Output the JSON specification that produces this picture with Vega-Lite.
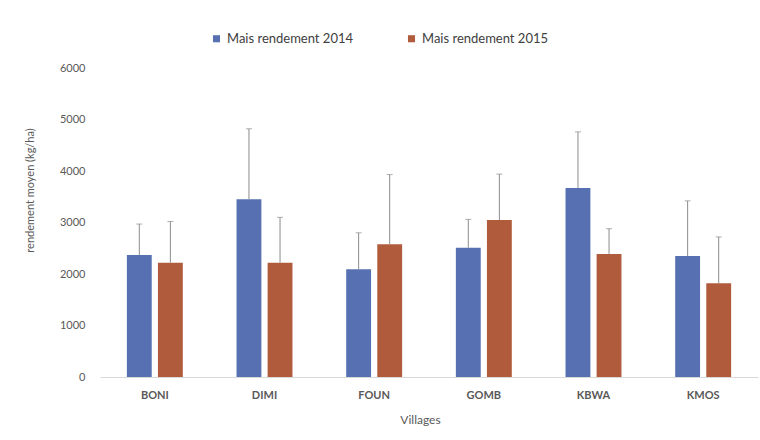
{
  "$schema": "https://vega.github.io/schema/vega-lite/v6.json",
  "width": 658,
  "height": 309,
  "autosize": {"type": "none"},
  "padding": {"left": 100, "top": 68, "right": 2, "bottom": 63},
  "background": "white",
  "config": {
    "font": "Lato",
    "view": {"stroke": null},
    "axis": {"labelColor": "#595959", "titleColor": "#595959", "labelFont": "Lato", "titleFont": "Lato"}
  },
  "data": {
    "values": [
      {"village": "BONI", "serie": "Mais  rendement 2014", "rendement": 2370, "haut": 2970},
      {"village": "BONI", "serie": "Mais  rendement 2015", "rendement": 2220, "haut": 3020},
      {"village": "DIMI", "serie": "Mais  rendement 2014", "rendement": 3450, "haut": 4820},
      {"village": "DIMI", "serie": "Mais  rendement 2015", "rendement": 2220, "haut": 3100},
      {"village": "FOUN", "serie": "Mais  rendement 2014", "rendement": 2090, "haut": 2800},
      {"village": "FOUN", "serie": "Mais  rendement 2015", "rendement": 2580, "haut": 3930},
      {"village": "GOMB", "serie": "Mais  rendement 2014", "rendement": 2510, "haut": 3060},
      {"village": "GOMB", "serie": "Mais  rendement 2015", "rendement": 3050, "haut": 3940},
      {"village": "KBWA", "serie": "Mais  rendement 2014", "rendement": 3670, "haut": 4760},
      {"village": "KBWA", "serie": "Mais  rendement 2015", "rendement": 2390, "haut": 2880},
      {"village": "KMOS", "serie": "Mais  rendement 2014", "rendement": 2350, "haut": 3420},
      {"village": "KMOS", "serie": "Mais  rendement 2015", "rendement": 1820, "haut": 2720}
    ]
  },
  "encoding": {
    "x": {
      "field": "village",
      "type": "nominal",
      "scale": {"paddingInner": 0.49, "paddingOuter": 0.245},
      "axis": {
        "title": "Villages",
        "labelAngle": 0,
        "labelFontSize": 11,
        "labelFontWeight": "bold",
        "labelPadding": 12,
        "ticks": false,
        "domainColor": "#d9d9d9",
        "titleFontSize": 12,
        "titleFontWeight": "normal",
        "titleX": 320,
        "titleY": 42,
        "titleBaseline": "middle"
      }
    },
    "xOffset": {"field": "serie", "type": "nominal", "scale": {"paddingInner": 0.2, "paddingOuter": 0}}
  },
  "layer": [
    {
      "mark": {"type": "bar"},
      "encoding": {
        "y": {
          "field": "rendement",
          "type": "quantitative",
          "scale": {"domain": [0, 6000]},
          "axis": {
            "title": "rendement moyen (kg/ha)",
            "values": [0, 1000, 2000, 3000, 4000, 5000, 6000],
            "format": "d",
            "grid": false,
            "domain": false,
            "ticks": false,
            "labelFontSize": 11,
            "labelPadding": 15,
            "titleFontSize": 11,
            "titleFontWeight": "normal",
            "titleX": -70,
            "titleY": 122,
            "titleBaseline": "middle"
          }
        },
        "color": {
          "field": "serie",
          "type": "nominal",
          "scale": {"range": ["#5670b1", "#b15b3d"]},
          "legend": {
            "title": null,
            "orient": "none",
            "direction": "horizontal",
            "legendX": 110,
            "legendY": -36,
            "symbolType": "square",
            "symbolSize": 50,
            "labelFontSize": 13,
            "labelColor": "#404040",
            "columnPadding": 48
          }
        }
      }
    },
    {
      "mark": {"type": "rule", "color": "#8c8c8c", "strokeWidth": 1},
      "encoding": {
        "y": {"field": "rendement", "type": "quantitative"},
        "y2": {"field": "haut"}
      }
    },
    {
      "mark": {"type": "tick", "color": "#8c8c8c", "thickness": 1, "size": 6},
      "encoding": {
        "y": {"field": "haut", "type": "quantitative"}
      }
    }
  ]
}
